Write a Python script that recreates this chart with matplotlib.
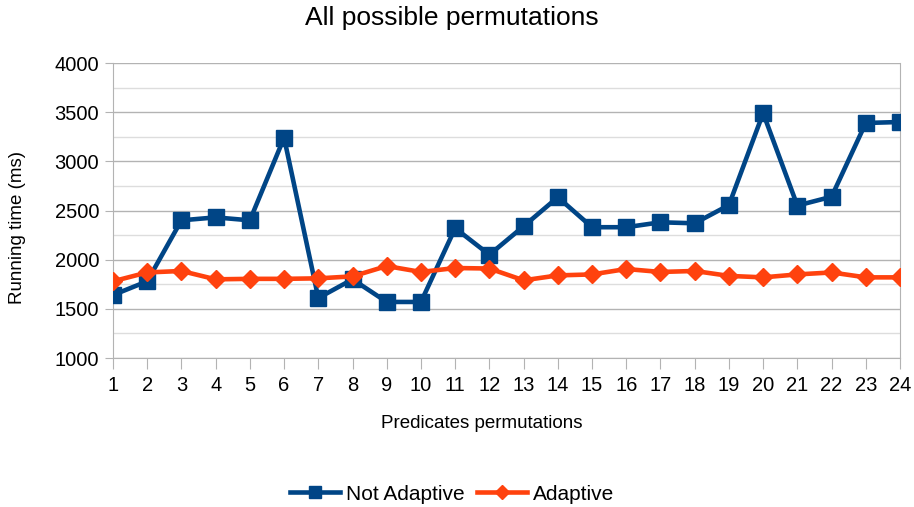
import matplotlib
matplotlib.use("Agg")
from matplotlib import pyplot as plt
from matplotlib.ticker import MultipleLocator

plt.rcParams['font.family'] = ['Liberation Sans', 'DejaVu Sans']

# dados
permutacoes = list(range(1, 25))
not_adaptive = [1640, 1780, 2400, 2430, 2400, 3240, 1610, 1800, 1570, 1570,
                2320, 2050, 2340, 2635, 2330, 2330, 2380, 2370, 2555, 3490,
                2550, 2640, 3390, 3400]
adaptive = [1780, 1870, 1885, 1800, 1805, 1805, 1810, 1830, 1935, 1875,
            1915, 1910, 1790, 1840, 1850, 1905, 1875, 1885, 1835, 1820,
            1850, 1870, 1820, 1820]

azul = '#004586'
laranja = '#ff420e'
cinza = '#b3b3b3'

W, H = 914, 507
fig = plt.figure(figsize=(W / 100, H / 100), dpi=100)
ax = fig.add_axes([113 / W, 1 - 358 / H, (900 - 113) / W, (358 - 63) / H])

ax.plot(permutacoes, not_adaptive, color=azul, linewidth=3.3, marker='s',
        markersize=12, label='Not Adaptive', zorder=3)
ax.plot(permutacoes, adaptive, color=laranja, linewidth=3.3, marker='D',
        markersize=9.5, label='Adaptive', zorder=4)

ax.set_xlim(1, 24)
ax.set_ylim(1000, 4000)
ax.set_xticks(permutacoes)
ax.yaxis.set_major_locator(MultipleLocator(500))
ax.yaxis.set_minor_locator(MultipleLocator(250))
ax.grid(which='major', axis='y', color=cinza, linewidth=1)
ax.grid(which='minor', axis='y', color='#dddddd', linewidth=1)
ax.set_axisbelow(True)

for lado in ['left', 'bottom', 'right']:
    ax.spines[lado].set_color(cinza)
ax.spines['top'].set_visible(False)

ax.tick_params(axis='x', direction='out', length=8, color=cinza, labelsize=14.5, pad=5)
ax.tick_params(axis='y', which='major', direction='out', length=6, color=cinza,
               labelsize=14.5, pad=4)
ax.tick_params(axis='y', which='minor', length=0)

# textos posicionados como no original
fig.text(452 / W, 1 - 18 / H, 'All possible permutations', fontsize=19,
         ha='center', va='center')
fig.text(18 / W, 1 - 227 / H, 'Running time (ms)', fontsize=13.5, rotation=90,
         ha='center', va='center')
fig.text(482 / W, 1 - 424 / H, 'Predicates permutations', fontsize=13.5,
         ha='center', va='center')

fig.legend(loc='center', bbox_to_anchor=(452 / W, 1 - 494 / H), ncol=2, frameon=False,
           fontsize=15, handlelength=2.4, columnspacing=0.6, handletextpad=0.3,
           markerscale=0.75)

fig.savefig('out.png', dpi=100)
